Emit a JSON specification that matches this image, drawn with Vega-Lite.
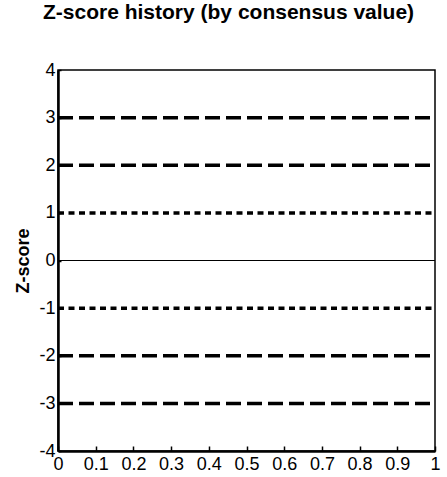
{
  "$schema": "https://vega.github.io/schema/vega-lite/v6.json",
  "width": 377,
  "height": 381,
  "autosize": {"type": "none"},
  "padding": {"left": 58, "top": 70, "right": 12, "bottom": 26},
  "background": "white",
  "title": {
    "text": "Z-score history (by consensus value)",
    "font": "Liberation Sans",
    "fontSize": 21,
    "fontWeight": "bold",
    "color": "black",
    "anchor": "start",
    "frame": "group",
    "dx": -15,
    "offset": 21,
    "baseline": "alphabetic"
  },
  "config": {
    "view": {"stroke": "black", "strokeWidth": 1.5},
    "axis": {
      "grid": false,
      "domainColor": "black",
      "domainWidth": 2.5,
      "tickColor": "black",
      "tickWidth": 1.5,
      "labelFont": "Liberation Sans",
      "labelFontSize": 18,
      "labelColor": "black",
      "titleFont": "Liberation Sans",
      "titleFontSize": 18,
      "titleFontWeight": "bold",
      "titleColor": "black"
    }
  },
  "data": {
    "values": [
      {"z": 3, "line": "dashed"},
      {"z": 2, "line": "dashed"},
      {"z": 1, "line": "dotted"},
      {"z": 0, "line": "solid"},
      {"z": -1, "line": "dotted"},
      {"z": -2, "line": "dashed"},
      {"z": -3, "line": "dashed"}
    ]
  },
  "encoding": {
    "x": {
      "datum": 0,
      "type": "quantitative",
      "scale": {"domain": [0, 1], "nice": false, "zero": false},
      "axis": {
        "title": null,
        "values": [0, 0.1, 0.2, 0.3, 0.4, 0.5, 0.6, 0.7, 0.8, 0.9, 1],
        "labelExpr": "'' + datum.value",
        "tickSize": -5,
        "labelPadding": 9,
        "labelFlush": false
      }
    },
    "x2": {"datum": 1},
    "y": {
      "field": "z",
      "type": "quantitative",
      "scale": {"domain": [-4, 4], "nice": false},
      "axis": {
        "title": "Z-score",
        "values": [-4, -3, -2, -1, 0, 1, 2, 3, 4],
        "labelExpr": "'' + datum.value",
        "tickSize": -3,
        "labelPadding": 6,
        "labelFlush": false,
        "titleX": -26
      }
    }
  },
  "layer": [
    {
      "transform": [{"filter": "datum.line == 'dashed'"}],
      "mark": {"type": "rule", "color": "black", "strokeWidth": 3.5, "strokeDash": [15, 6]}
    },
    {
      "transform": [{"filter": "datum.line == 'dotted'"}],
      "mark": {"type": "rule", "color": "black", "strokeWidth": 3.5, "strokeDash": [6, 4.5]}
    },
    {
      "transform": [{"filter": "datum.line == 'solid'"}],
      "mark": {"type": "rule", "color": "black", "strokeWidth": 1}
    }
  ]
}
